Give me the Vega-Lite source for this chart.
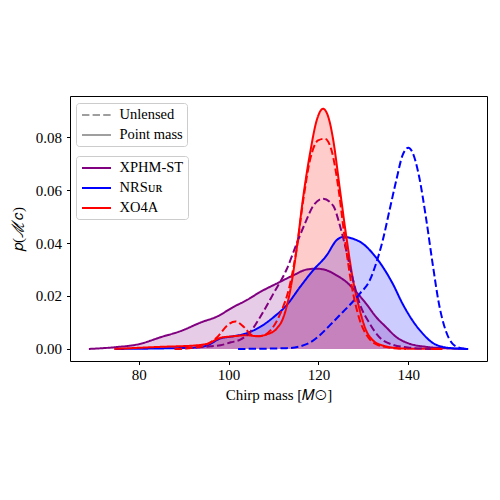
{
  "$schema": "https://vega.github.io/schema/vega-lite/v6.json",
  "width": 417,
  "height": 265,
  "autosize": "none",
  "padding": {"left": 70, "top": 96, "right": 13, "bottom": 139},
  "background": "white",
  "config": {
    "view": {"stroke": "black", "strokeWidth": 1},
    "font": "Liberation Serif",
    "axis": {
      "grid": false,
      "domain": false,
      "tickColor": "black",
      "tickSize": 3.5,
      "labelFont": "Liberation Serif",
      "labelFontSize": 15,
      "labelColor": "black",
      "titleFont": "Liberation Serif",
      "titleFontSize": 15,
      "titleFontWeight": "normal",
      "titleColor": "black"
    },
    "legend": {
      "orient": "none",
      "symbolType": "M-2.07,0H2.07",
      "symbolSize": 196,
      "symbolStrokeWidth": 2,
      "symbolOpacity": 1,
      "symbolOffset": 8.5,
      "labelFont": "Liberation Serif",
      "labelFontSize": 14.5,
      "labelColor": "black",
      "labelOffset": 15,
      "rowPadding": 5,
      "padding": 4,
      "strokeColor": "#cccccc",
      "fillColor": "rgba(255,255,255,0.8)",
      "cornerRadius": 3,
      "title": null
    }
  },
  "data": {
    "values": [
      {"m": "XPHM-ST", "k": "Point mass", "x": 68.9, "y": 0},
      {"m": "XPHM-ST", "k": "Point mass", "x": 72, "y": 0.0003},
      {"m": "XPHM-ST", "k": "Point mass", "x": 75, "y": 0.0007},
      {"m": "XPHM-ST", "k": "Point mass", "x": 80, "y": 0.0018},
      {"m": "XPHM-ST", "k": "Point mass", "x": 85, "y": 0.0045},
      {"m": "XPHM-ST", "k": "Point mass", "x": 89.4, "y": 0.0068},
      {"m": "XPHM-ST", "k": "Point mass", "x": 93.8, "y": 0.01},
      {"m": "XPHM-ST", "k": "Point mass", "x": 97.5, "y": 0.0123},
      {"m": "XPHM-ST", "k": "Point mass", "x": 101, "y": 0.0158},
      {"m": "XPHM-ST", "k": "Point mass", "x": 104, "y": 0.0184},
      {"m": "XPHM-ST", "k": "Point mass", "x": 107, "y": 0.0215},
      {"m": "XPHM-ST", "k": "Point mass", "x": 110.7, "y": 0.0247},
      {"m": "XPHM-ST", "k": "Point mass", "x": 114.4, "y": 0.0278},
      {"m": "XPHM-ST", "k": "Point mass", "x": 117.4, "y": 0.03},
      {"m": "XPHM-ST", "k": "Point mass", "x": 119.6, "y": 0.0303},
      {"m": "XPHM-ST", "k": "Point mass", "x": 121.8, "y": 0.0297},
      {"m": "XPHM-ST", "k": "Point mass", "x": 124, "y": 0.0278},
      {"m": "XPHM-ST", "k": "Point mass", "x": 126.2, "y": 0.0253},
      {"m": "XPHM-ST", "k": "Point mass", "x": 128.4, "y": 0.0215},
      {"m": "XPHM-ST", "k": "Point mass", "x": 130.6, "y": 0.0171},
      {"m": "XPHM-ST", "k": "Point mass", "x": 132.8, "y": 0.0121},
      {"m": "XPHM-ST", "k": "Point mass", "x": 135, "y": 0.0083},
      {"m": "XPHM-ST", "k": "Point mass", "x": 137.3, "y": 0.0045},
      {"m": "XPHM-ST", "k": "Point mass", "x": 140.2, "y": 0.002},
      {"m": "XPHM-ST", "k": "Point mass", "x": 143.9, "y": 0.0008},
      {"m": "XPHM-ST", "k": "Point mass", "x": 147.6, "y": 0.0003},
      {"m": "XPHM-ST", "k": "Point mass", "x": 153.3, "y": 0},

      {"m": "NRSur", "k": "Point mass", "x": 74.6, "y": 0},
      {"m": "NRSur", "k": "Point mass", "x": 85, "y": 0.0002},
      {"m": "NRSur", "k": "Point mass", "x": 92.3, "y": 0.0005},
      {"m": "NRSur", "k": "Point mass", "x": 95.3, "y": 0.0014},
      {"m": "NRSur", "k": "Point mass", "x": 98.2, "y": 0.004},
      {"m": "NRSur", "k": "Point mass", "x": 101.1, "y": 0.0048},
      {"m": "NRSur", "k": "Point mass", "x": 104.1, "y": 0.006},
      {"m": "NRSur", "k": "Point mass", "x": 107, "y": 0.0083},
      {"m": "NRSur", "k": "Point mass", "x": 110, "y": 0.012},
      {"m": "NRSur", "k": "Point mass", "x": 112.9, "y": 0.0165},
      {"m": "NRSur", "k": "Point mass", "x": 115.9, "y": 0.0234},
      {"m": "NRSur", "k": "Point mass", "x": 118.8, "y": 0.0297},
      {"m": "NRSur", "k": "Point mass", "x": 121.8, "y": 0.0353},
      {"m": "NRSur", "k": "Point mass", "x": 124, "y": 0.041},
      {"m": "NRSur", "k": "Point mass", "x": 125.5, "y": 0.0423},
      {"m": "NRSur", "k": "Point mass", "x": 127.7, "y": 0.0416},
      {"m": "NRSur", "k": "Point mass", "x": 129.9, "y": 0.0397},
      {"m": "NRSur", "k": "Point mass", "x": 132.1, "y": 0.036},
      {"m": "NRSur", "k": "Point mass", "x": 134.3, "y": 0.031},
      {"m": "NRSur", "k": "Point mass", "x": 136.5, "y": 0.0247},
      {"m": "NRSur", "k": "Point mass", "x": 138.7, "y": 0.0171},
      {"m": "NRSur", "k": "Point mass", "x": 140.9, "y": 0.0108},
      {"m": "NRSur", "k": "Point mass", "x": 143.2, "y": 0.0058},
      {"m": "NRSur", "k": "Point mass", "x": 145.4, "y": 0.0023},
      {"m": "NRSur", "k": "Point mass", "x": 147.6, "y": 0.0008},
      {"m": "NRSur", "k": "Point mass", "x": 151.3, "y": 0.0001},
      {"m": "NRSur", "k": "Point mass", "x": 153.3, "y": 0},

      {"m": "XO4A", "k": "Point mass", "x": 74.6, "y": 0},
      {"m": "XO4A", "k": "Point mass", "x": 84.9, "y": 0.0008},
      {"m": "XO4A", "k": "Point mass", "x": 92.3, "y": 0.0013},
      {"m": "XO4A", "k": "Point mass", "x": 95.3, "y": 0.002},
      {"m": "XO4A", "k": "Point mass", "x": 98.2, "y": 0.0042},
      {"m": "XO4A", "k": "Point mass", "x": 101.1, "y": 0.0048},
      {"m": "XO4A", "k": "Point mass", "x": 104.1, "y": 0.0052},
      {"m": "XO4A", "k": "Point mass", "x": 106.3, "y": 0.0048},
      {"m": "XO4A", "k": "Point mass", "x": 108.5, "y": 0.0055},
      {"m": "XO4A", "k": "Point mass", "x": 110.7, "y": 0.0077},
      {"m": "XO4A", "k": "Point mass", "x": 112.2, "y": 0.012},
      {"m": "XO4A", "k": "Point mass", "x": 113.7, "y": 0.022},
      {"m": "XO4A", "k": "Point mass", "x": 115.2, "y": 0.0385},
      {"m": "XO4A", "k": "Point mass", "x": 116.6, "y": 0.0574},
      {"m": "XO4A", "k": "Point mass", "x": 118.1, "y": 0.0737},
      {"m": "XO4A", "k": "Point mass", "x": 119.6, "y": 0.0863},
      {"m": "XO4A", "k": "Point mass", "x": 121, "y": 0.0907},
      {"m": "XO4A", "k": "Point mass", "x": 122.2, "y": 0.0875},
      {"m": "XO4A", "k": "Point mass", "x": 123.3, "y": 0.0787},
      {"m": "XO4A", "k": "Point mass", "x": 124.7, "y": 0.0611},
      {"m": "XO4A", "k": "Point mass", "x": 126.2, "y": 0.0423},
      {"m": "XO4A", "k": "Point mass", "x": 127.7, "y": 0.0259},
      {"m": "XO4A", "k": "Point mass", "x": 129.2, "y": 0.0146},
      {"m": "XO4A", "k": "Point mass", "x": 130.6, "y": 0.007},
      {"m": "XO4A", "k": "Point mass", "x": 132.1, "y": 0.0033},
      {"m": "XO4A", "k": "Point mass", "x": 134.3, "y": 0.0013},
      {"m": "XO4A", "k": "Point mass", "x": 136.5, "y": 0.0005},
      {"m": "XO4A", "k": "Point mass", "x": 140.2, "y": 0.0001},
      {"m": "XO4A", "k": "Point mass", "x": 147.6, "y": 0},

      {"m": "XPHM-ST", "k": "Unlensed", "x": 88, "y": 0},
      {"m": "XPHM-ST", "k": "Unlensed", "x": 92, "y": 0.0005},
      {"m": "XPHM-ST", "k": "Unlensed", "x": 96, "y": 0.001},
      {"m": "XPHM-ST", "k": "Unlensed", "x": 98.2, "y": 0.0014},
      {"m": "XPHM-ST", "k": "Unlensed", "x": 100.5, "y": 0.0025},
      {"m": "XPHM-ST", "k": "Unlensed", "x": 102.6, "y": 0.0035},
      {"m": "XPHM-ST", "k": "Unlensed", "x": 104.8, "y": 0.0064},
      {"m": "XPHM-ST", "k": "Unlensed", "x": 107, "y": 0.012},
      {"m": "XPHM-ST", "k": "Unlensed", "x": 110, "y": 0.021},
      {"m": "XPHM-ST", "k": "Unlensed", "x": 112.9, "y": 0.03},
      {"m": "XPHM-ST", "k": "Unlensed", "x": 115.2, "y": 0.04},
      {"m": "XPHM-ST", "k": "Unlensed", "x": 117.4, "y": 0.049},
      {"m": "XPHM-ST", "k": "Unlensed", "x": 118.8, "y": 0.054},
      {"m": "XPHM-ST", "k": "Unlensed", "x": 121, "y": 0.0567},
      {"m": "XPHM-ST", "k": "Unlensed", "x": 123.3, "y": 0.054},
      {"m": "XPHM-ST", "k": "Unlensed", "x": 124.7, "y": 0.047},
      {"m": "XPHM-ST", "k": "Unlensed", "x": 126.2, "y": 0.037},
      {"m": "XPHM-ST", "k": "Unlensed", "x": 127.7, "y": 0.026},
      {"m": "XPHM-ST", "k": "Unlensed", "x": 129.2, "y": 0.017},
      {"m": "XPHM-ST", "k": "Unlensed", "x": 131.4, "y": 0.0096},
      {"m": "XPHM-ST", "k": "Unlensed", "x": 133.5, "y": 0.0045},
      {"m": "XPHM-ST", "k": "Unlensed", "x": 136.5, "y": 0.0016},
      {"m": "XPHM-ST", "k": "Unlensed", "x": 140.2, "y": 0.0005},
      {"m": "XPHM-ST", "k": "Unlensed", "x": 145, "y": 0},

      {"m": "NRSur", "k": "Unlensed", "x": 102.1, "y": 0},
      {"m": "NRSur", "k": "Unlensed", "x": 112.9, "y": 0.0003},
      {"m": "NRSur", "k": "Unlensed", "x": 115.9, "y": 0.001},
      {"m": "NRSur", "k": "Unlensed", "x": 118.1, "y": 0.0024},
      {"m": "NRSur", "k": "Unlensed", "x": 120.3, "y": 0.0052},
      {"m": "NRSur", "k": "Unlensed", "x": 122.5, "y": 0.0089},
      {"m": "NRSur", "k": "Unlensed", "x": 124.7, "y": 0.0127},
      {"m": "NRSur", "k": "Unlensed", "x": 126.9, "y": 0.0165},
      {"m": "NRSur", "k": "Unlensed", "x": 129.2, "y": 0.0209},
      {"m": "NRSur", "k": "Unlensed", "x": 131.4, "y": 0.0259},
      {"m": "NRSur", "k": "Unlensed", "x": 132.8, "y": 0.0322},
      {"m": "NRSur", "k": "Unlensed", "x": 134.3, "y": 0.041},
      {"m": "NRSur", "k": "Unlensed", "x": 135.8, "y": 0.0523},
      {"m": "NRSur", "k": "Unlensed", "x": 137.3, "y": 0.0636},
      {"m": "NRSur", "k": "Unlensed", "x": 138.7, "y": 0.0731},
      {"m": "NRSur", "k": "Unlensed", "x": 140, "y": 0.076},
      {"m": "NRSur", "k": "Unlensed", "x": 140.9, "y": 0.0743},
      {"m": "NRSur", "k": "Unlensed", "x": 142.4, "y": 0.065},
      {"m": "NRSur", "k": "Unlensed", "x": 143.9, "y": 0.0498},
      {"m": "NRSur", "k": "Unlensed", "x": 145.4, "y": 0.0322},
      {"m": "NRSur", "k": "Unlensed", "x": 146.8, "y": 0.0171},
      {"m": "NRSur", "k": "Unlensed", "x": 148.3, "y": 0.007},
      {"m": "NRSur", "k": "Unlensed", "x": 149.8, "y": 0.002},
      {"m": "NRSur", "k": "Unlensed", "x": 151.3, "y": 0.0005},
      {"m": "NRSur", "k": "Unlensed", "x": 153.1, "y": 0},

      {"m": "XO4A", "k": "Unlensed", "x": 88, "y": 0},
      {"m": "XO4A", "k": "Unlensed", "x": 92.3, "y": 0.0005},
      {"m": "XO4A", "k": "Unlensed", "x": 95.3, "y": 0.0018},
      {"m": "XO4A", "k": "Unlensed", "x": 97.5, "y": 0.0045},
      {"m": "XO4A", "k": "Unlensed", "x": 99.7, "y": 0.0089},
      {"m": "XO4A", "k": "Unlensed", "x": 101.5, "y": 0.0104},
      {"m": "XO4A", "k": "Unlensed", "x": 103.4, "y": 0.0083},
      {"m": "XO4A", "k": "Unlensed", "x": 105.2, "y": 0.0052},
      {"m": "XO4A", "k": "Unlensed", "x": 107, "y": 0.0048},
      {"m": "XO4A", "k": "Unlensed", "x": 109.3, "y": 0.007},
      {"m": "XO4A", "k": "Unlensed", "x": 111.5, "y": 0.0133},
      {"m": "XO4A", "k": "Unlensed", "x": 113.7, "y": 0.0247},
      {"m": "XO4A", "k": "Unlensed", "x": 115.2, "y": 0.0385},
      {"m": "XO4A", "k": "Unlensed", "x": 116.6, "y": 0.0561},
      {"m": "XO4A", "k": "Unlensed", "x": 118.1, "y": 0.0712},
      {"m": "XO4A", "k": "Unlensed", "x": 119.9, "y": 0.0787},
      {"m": "XO4A", "k": "Unlensed", "x": 121.4, "y": 0.0794},
      {"m": "XO4A", "k": "Unlensed", "x": 122.9, "y": 0.075},
      {"m": "XO4A", "k": "Unlensed", "x": 124.4, "y": 0.0611},
      {"m": "XO4A", "k": "Unlensed", "x": 125.8, "y": 0.0423},
      {"m": "XO4A", "k": "Unlensed", "x": 127.3, "y": 0.0247},
      {"m": "XO4A", "k": "Unlensed", "x": 129.2, "y": 0.0108},
      {"m": "XO4A", "k": "Unlensed", "x": 131, "y": 0.0045},
      {"m": "XO4A", "k": "Unlensed", "x": 132.8, "y": 0.0018},
      {"m": "XO4A", "k": "Unlensed", "x": 135.8, "y": 0.0005},
      {"m": "XO4A", "k": "Unlensed", "x": 139.5, "y": 0}
    ]
  },
  "encoding": {
    "x": {
      "field": "x",
      "type": "quantitative",
      "scale": {"domain": [64.7, 157.5], "nice": false, "zero": false},
      "axis": {"values": [80, 100, 120, 140], "title": "Chirp mass  [𝑀⊙]", "titlePadding": 5, "labelPadding": 3}
    },
    "y": {
      "field": "y",
      "type": "quantitative",
      "stack": null,
      "scale": {"domain": [-0.00455, 0.0955], "nice": false, "zero": false},
      "axis": {"values": [0, 0.02, 0.04, 0.06, 0.08], "format": ".2f", "title": "𝑝(ℳ𝑐)", "titlePadding": 10, "labelPadding": 5}
    },
    "color": {
      "field": "m",
      "type": "nominal",
      "scale": {"domain": ["XPHM-ST", "NRSur", "XO4A"], "range": ["#800080", "#0000ff", "#ff0000"]},
      "legend": {"legendX": 6, "legendY": 60, "labelExpr": "datum.label == 'NRSur' ? 'NRSᴜʀ' : datum.label"}
    }
  },
  "layer": [
    {
      "transform": [{"filter": "datum.k == 'Point mass'"}],
      "mark": {"type": "area", "opacity": 0.2, "interpolate": "monotone"}
    },
    {
      "mark": {"type": "line", "strokeWidth": 2, "interpolate": "monotone"},
      "encoding": {
        "strokeDash": {
          "field": "k",
          "type": "nominal",
          "scale": {"domain": ["Unlensed", "Point mass"], "range": [[7.4, 3.2], [1, 0]]},
          "legend": {"legendX": 6, "legendY": 7, "symbolStrokeColor": "#7f7f7f", "symbolStrokeWidth": 1.5}
        }
      }
    }
  ]
}
